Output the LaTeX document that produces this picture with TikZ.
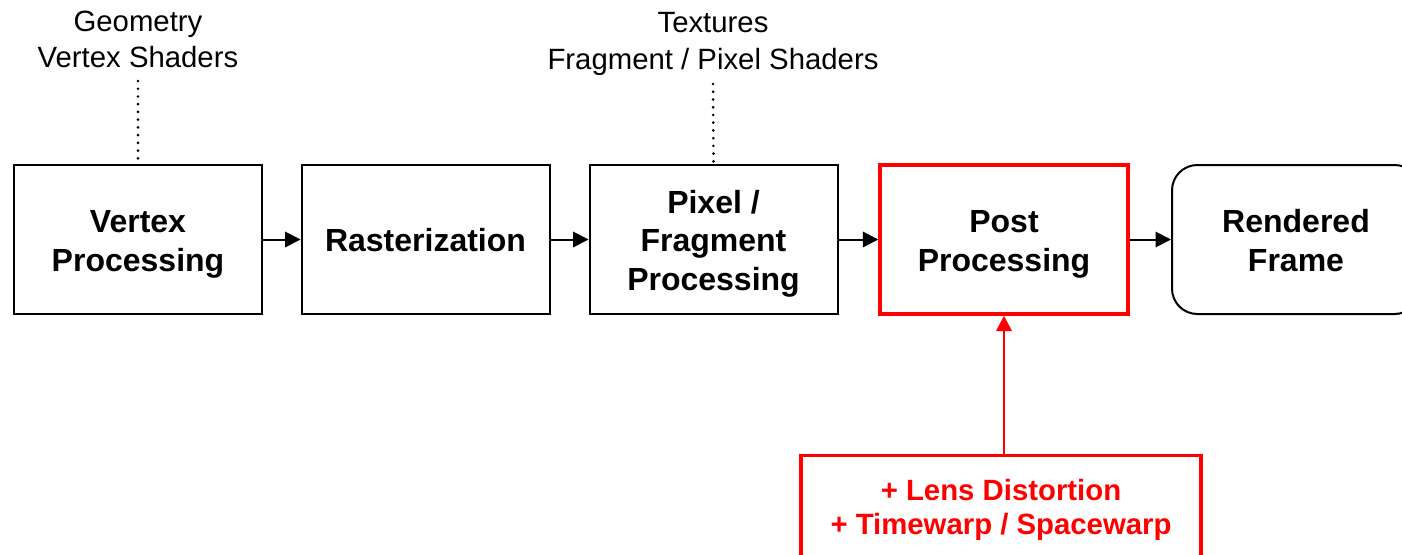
\documentclass[tikz,border=0pt]{standalone}
\usepackage{fontspec}
\setmainfont{Liberation Sans}
\usetikzlibrary{arrows.meta}
\definecolor{hired}{RGB}{255,0,0}
% struts that give every stage label the same top and bottom extent
\newcommand{\hitop}{\rule{0pt}{24.7pt}}
\newcommand{\lobot}{\rule[-6pt]{0pt}{6pt}}
\begin{document}
\begin{tikzpicture}[x=0.75pt,y=-0.75pt,
  stage/.style={draw=black,line width=1.5pt,minimum width=248*0.75pt,minimum height=149*0.75pt,
    inner sep=0pt,align=center,font=\fontsize{24}{29}\selectfont\bfseries},
  hot/.style={stage,draw=hired,line width=2.6pt},
  final/.style={stage,rounded corners=19pt},
  addon/.style={draw=hired,line width=2.6pt,minimum width=400*0.75pt,minimum height=200*0.75pt,inner sep=0pt},
  addontext/.style={text=hired,align=center,font=\fontsize{22}{26}\selectfont\bfseries},
  note/.style={align=center,font=\fontsize{22}{27.2}\selectfont},
  flow/.style={line width=1.5pt,-{Triangle[length=11.5pt,width=11.5pt]}},
  hotflow/.style={line width=2pt,draw=hired,-{Triangle[length=11.5pt,width=11.5pt]},hired},
  hint/.style={line width=2.2pt,line cap=round,dash pattern=on 0pt off 5.8pt}]
\useasboundingbox (0,0) rectangle (1402,554);
\clip (0,0) rectangle (1402,554);

% pipeline stages
\node[stage] (vp) at (138,239.5) {\hitop Vertex\\Processing\lobot};
\node[stage] (ras) at (425.5,239.5) {\hitop Rasterization\lobot};
\node[stage] (pfp) at (713.5,239.5) {\hitop Pixel /\\Fragment\\Processing\lobot};
\node[hot] (pp) at (1004,239.5) {\hitop Post\\Processing\lobot};
\node[final] (rf) at (1296,239.5) {\hitop Rendered\\Frame\lobot};

% VR additions feeding post processing
\node[addon,anchor=north] (vr) at (1001,454) {};
\node[addontext] (vrtext) at (1001,510) {+ Lens Distortion\\+ Timewarp / Spacewarp};

% programmable stage annotations
\node[note,anchor=north] (geo) at (138,6) {Geometry\\Vertex Shaders};
\node[note,anchor=north] (tex) at (713,8) {Textures\\Fragment / Pixel Shaders};
\coordinate (geoend) at (138,81);
\coordinate (texend) at (713,84);

% connectors
\draw[flow] (vp) -- (ras);
\draw[flow] (ras) -- (pfp);
\draw[flow] (pfp) -- (pp);
\draw[flow] (pp) -- (rf);
\draw[hotflow] (vr.north -| pp.south) -- (pp.south);
\draw[hint] (geoend) -- (vp.north);
\draw[hint] (texend) -- (pfp.north);
\end{tikzpicture}
\end{document}
